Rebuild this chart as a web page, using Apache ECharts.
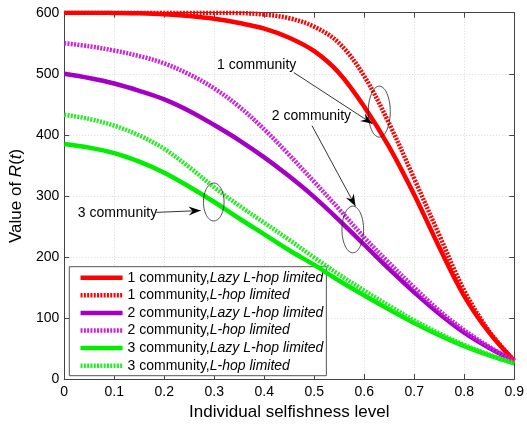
<!DOCTYPE html>
<html>
<head>
<meta charset="utf-8">
<script src="https://cdn.jsdelivr.net/npm/echarts@6/dist/echarts.min.js"></script>
<style>
  html, body { margin: 0; padding: 0; background: #fff; }
  #chart { width: 527px; height: 426px; }
</style>
</head>
<body>
<div id="chart"></div>
<script>
// Selfishness levels at which R(t) was evaluated
const selfishness = [0, 0.05, 0.1, 0.15, 0.2, 0.25, 0.3, 0.35, 0.4, 0.45, 0.5, 0.55, 0.6, 0.65, 0.7, 0.75, 0.8, 0.85, 0.9];

// R(t) for each community count and forwarding scheme
const lazy1 = [600, 600, 599.6, 599, 597.5, 594.5, 590, 583, 574, 559, 537, 501, 446, 380, 302, 216, 136, 76, 30];
const hop1  = [600, 600, 600, 600, 600, 600, 600, 599.5, 597, 591, 577, 550, 496, 418, 328, 236, 145, 78, 30];
const lazy2 = [500, 493, 484, 472, 458, 439, 416, 391, 363, 332, 298, 260, 220, 180, 142, 107, 76, 51, 30];
const hop2  = [550, 545, 538, 529, 517, 499, 476, 446, 409, 367, 323, 278, 232, 190, 150, 112, 80, 53, 30];
const lazy3 = [385, 379, 370, 356, 338, 315, 290, 263, 237, 211, 187, 161, 137, 114, 92, 72, 54, 39, 26];
const hop3  = [433, 426, 415, 399, 377, 347, 314, 284, 256, 228, 199, 171, 145, 120, 96, 75, 56, 40, 26];

// Axis ticks
const xTicks = ['0', '0.1', '0.2', '0.3', '0.4', '0.5', '0.6', '0.7', '0.8', '0.9'];
const yTicks = ['0', '100', '200', '300', '400', '500', '600'];

const FONT = '"Liberation Sans", Arial, sans-serif';
const RED = '#ff0000', PURPLE = '#a400c4', MAGENTA = '#cc22dd', GREEN = '#00ee00', LGREEN = '#22ee22';

function pairs(vals) { return selfishness.map((x, i) => [x, vals[i]]); }

function lineSeries(name, vals, color, dotted) {
  return {
    name: name,
    type: 'line',
    data: pairs(vals),
    smooth: 0.35,
    symbol: 'none',
    color: color,
    lineStyle: {
      color: color,
      width: 4.5,
      type: dotted ? [2, 1.3] : 'solid',
      cap: 'butt'
    },
    z: dotted ? 4 : 3
  };
}

const legendRich = {
  n: { fontFamily: FONT, fontSize: 14, color: '#000' },
  i: { fontFamily: FONT, fontSize: 14, color: '#000', fontStyle: 'italic' }
};

const chart = echarts.init(document.getElementById('chart'), null, { renderer: 'canvas' });

const axisCommon = {
  axisLine: { show: true, onZero: false, lineStyle: { color: '#444', width: 1 } },
  axisTick: { show: true, inside: true, length: 5, lineStyle: { color: '#444' } }
};

chart.setOption({
  animation: false,
  backgroundColor: '#fff',
  grid: { left: 59.5, right: 9.5, top: 12.7, bottom: 43, containLabel: false },
  xAxis: [
    Object.assign({
      type: 'value', min: 0, max: 0.9, interval: 0.1, position: 'bottom',
      name: 'Individual selfishness level', nameLocation: 'middle', nameGap: 23,
      nameTextStyle: { fontFamily: FONT, fontSize: 17, color: '#000' },
      axisLabel: {
        fontFamily: FONT, fontSize: 14, color: '#000', margin: 6,
        formatter: v => xTicks[Math.round(v * 10)]
      },
      splitLine: { show: true, lineStyle: { color: '#d8d8d8', type: [1, 2], width: 1 } }
    }, axisCommon),
    Object.assign({
      type: 'value', min: 0, max: 0.9, interval: 0.1, position: 'top',
      axisLabel: { show: false }, splitLine: { show: false }
    }, axisCommon)
  ],
  yAxis: [
    Object.assign({
      type: 'value', min: 0, max: 600, interval: 100, position: 'left',
      name: 'Value of {i|R}({i|t})', nameLocation: 'middle', nameGap: 33,
      nameTextStyle: {
        fontFamily: FONT, fontSize: 17, color: '#000',
        rich: {
          i: { fontFamily: FONT, fontSize: 17, fontStyle: 'italic', color: '#000' }
        }
      },
      axisLabel: {
        fontFamily: FONT, fontSize: 14, color: '#000', margin: 5,
        formatter: v => yTicks[Math.round(v / 100)]
      },
      splitLine: { show: true, lineStyle: { color: '#d8d8d8', type: [1, 2], width: 1 } }
    }, axisCommon),
    Object.assign({
      type: 'value', min: 0, max: 600, interval: 100, position: 'right',
      axisLabel: { show: false }, splitLine: { show: false }
    }, axisCommon)
  ],
  legend: {
    orient: 'vertical',
    left: 69.3, top: 266.7,
    z: 1,
    padding: [4, 3, 3, 9],
    itemWidth: 42, itemHeight: 14, itemGap: 3.6,
    backgroundColor: '#fff',
    borderColor: '#555', borderWidth: 1,
    itemStyle: { opacity: 0 },
    lineStyle: { width: 4.5, cap: 'butt' },
    textStyle: { fontFamily: FONT, fontSize: 14, color: '#000', lineHeight: 14, rich: legendRich },
    formatter: function (name) {
      const k = name.indexOf(',');
      return '{n|' + name.slice(0, k + 1) + '}{i|' + name.slice(k + 1) + '}';
    },
    data: [
      '1 community,Lazy L-hop limited', '1 community,L-hop limited',
      '2 community,Lazy L-hop limited', '2 community,L-hop limited',
      '3 community,Lazy L-hop limited', '3 community,L-hop limited'
    ]
  },
  series: [
    lineSeries('1 community,Lazy L-hop limited', lazy1, RED, false),
    lineSeries('1 community,L-hop limited', hop1, RED, true),
    lineSeries('2 community,Lazy L-hop limited', lazy2, PURPLE, false),
    lineSeries('2 community,L-hop limited', hop2, MAGENTA, true),
    lineSeries('3 community,Lazy L-hop limited', lazy3, GREEN, false),
    lineSeries('3 community,L-hop limited', hop3, LGREEN, true)
  ]
});

// Callouts: label text, arrow from label to the highlighted pair of curves, ellipse around them
const callouts = [
  { text: '1 community', label: [0.3055, 514], tail: [0.459, 502], tip: [0.6165, 418], ring: [0.63, 438], rx: 11, ry: 25.5 },
  { text: '2 community', label: [0.415, 431], tail: [0.4955, 415], tip: [0.5825, 283], ring: [0.577, 245], rx: 10.8, ry: 23.3 },
  { text: '3 community', label: [0.0271, 272], tail: [0.1843, 273], tip: [0.2727, 276], ring: [0.299, 290], rx: 10.3, ry: 19 }
];

function toPx(p) { return chart.convertToPixel({ gridIndex: 0 }, p); }

const graphics = [];
callouts.forEach(c => {
  const lp = toPx(c.label), tp = toPx(c.tail), hp = toPx(c.tip), rp = toPx(c.ring);
  graphics.push({
    type: 'text', x: lp[0], y: lp[1],
    style: { text: c.text, fontFamily: FONT, fontSize: 14, fill: '#000', textAlign: 'left', textVerticalAlign: 'middle' },
    z: 100
  });
  graphics.push({
    type: 'line', shape: { x1: tp[0], y1: tp[1], x2: hp[0], y2: hp[1] },
    style: { stroke: '#000', lineWidth: 0.8 }, z: 100
  });
  // arrow head
  const ang = Math.atan2(hp[1] - tp[1], hp[0] - tp[0]);
  const L = 12, W = 4.5, back = 8;
  const ux = Math.cos(ang), uy = Math.sin(ang), nx = -uy, ny = ux;
  const bx = hp[0] - ux * L, by = hp[1] - uy * L;
  graphics.push({
    type: 'polygon',
    shape: { points: [
      [hp[0], hp[1]],
      [bx + nx * W, by + ny * W],
      [hp[0] - ux * back, hp[1] - uy * back],
      [bx - nx * W, by - ny * W]
    ] },
    style: { fill: '#000' }, z: 100
  });
  // ellipse outline
  const pts = [];
  for (let k = 0; k < 72; k++) {
    const t = k / 72 * Math.PI * 2;
    pts.push([rp[0] + c.rx * Math.cos(t), rp[1] + c.ry * Math.sin(t)]);
  }
  graphics.push({
    type: 'polygon', shape: { points: pts },
    style: { fill: 'none', stroke: '#222', lineWidth: 0.8 }, z: 100
  });
});
chart.setOption({ graphic: { elements: graphics } });
</script>
</body>
</html>
